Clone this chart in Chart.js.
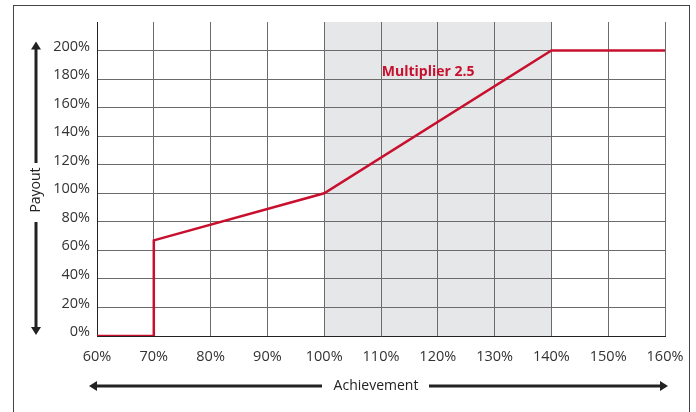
<!DOCTYPE html>
<html>
<head>
<meta charset="utf-8">
<script src="https://cdn.jsdelivr.net/npm/chart.js@4"></script>
<style>
  html, body { margin: 0; padding: 0; background: #fff; }
  #wrap { width: 696px; height: 412px; position: relative; }
</style>
</head>
<body>
<div id="wrap"><canvas id="payoutChart" width="696" height="412"></canvas></div>
<script>
// payout curve: achievement (%) -> payout (%)
const achievement = [60, 70, 70, 100, 140, 160];
const payout = [0, 0, 67, 100, 200, 200];

const xTicks = [60, 70, 80, 90, 100, 110, 120, 130, 140, 150, 160];
const yTicks = [0, 20, 40, 60, 80, 100, 120, 140, 160, 180, 200];

// shaded band and its label
const bandRange = [100, 140];
const bandLabel = 'Multiplier 2.5';
const bandLabelAt = [118.3, 185];

const red = '#c8102e';
const ink = '#222';

const decorPlugin = {
  id: 'decor',
  beforeDraw(chart) {
    const { ctx, chartArea, scales } = chart;
    const x0 = scales.x.getPixelForValue(bandRange[0]);
    const x1 = scales.x.getPixelForValue(bandRange[1]);
    ctx.save();
    ctx.fillStyle = '#e6e7e9';
    ctx.fillRect(x0, chartArea.top, x1 - x0, chartArea.bottom - chartArea.top);
    ctx.restore();
  },
  afterDraw(chart) {
    const { ctx, chartArea, scales } = chart;
    ctx.save();
    // outer frame
    ctx.strokeStyle = '#444';
    ctx.lineWidth = 1;
    ctx.strokeRect(13.5, 5.5, 676, 420);

    // band label
    ctx.fillStyle = red;
    ctx.font = 'bold 14px "Open Sans"';
    ctx.textAlign = 'center';
    ctx.textBaseline = 'middle';
    ctx.fillText(bandLabel, scales.x.getPixelForValue(bandLabelAt[0]), scales.y.getPixelForValue(bandLabelAt[1]));

    // axis titles with arrows
    ctx.fillStyle = ink;
    ctx.strokeStyle = ink;
    ctx.lineWidth = 3;
    ctx.font = '14px "Open Sans"';

    function arrowHead(x, y, dir) {
      ctx.beginPath();
      if (dir === 'up') { ctx.moveTo(x, y); ctx.lineTo(x - 5, y + 8); ctx.lineTo(x + 5, y + 8); }
      if (dir === 'down') { ctx.moveTo(x, y); ctx.lineTo(x - 5, y - 8); ctx.lineTo(x + 5, y - 8); }
      if (dir === 'left') { ctx.moveTo(x, y); ctx.lineTo(x + 8, y - 5); ctx.lineTo(x + 8, y + 5); }
      if (dir === 'right') { ctx.moveTo(x, y); ctx.lineTo(x - 8, y - 5); ctx.lineTo(x - 8, y + 5); }
      ctx.closePath();
      ctx.fill();
    }

    const ax = 36;
    const yTop = scales.y.getPixelForValue(200) - 9;
    const yBot = chartArea.bottom - 1;
    const yMid = 190;
    ctx.beginPath();
    ctx.moveTo(ax, yTop + 6); ctx.lineTo(ax, yMid - 27);
    ctx.moveTo(ax, yMid + 32); ctx.lineTo(ax, yBot - 6);
    ctx.stroke();
    arrowHead(ax, yTop, 'up');
    arrowHead(ax, yBot, 'down');
    ctx.save();
    ctx.translate(ax, yMid);
    ctx.rotate(-Math.PI / 2);
    ctx.textAlign = 'center';
    ctx.textBaseline = 'middle';
    ctx.fillText('Payout', 0, 0);
    ctx.restore();

    const ay = 386;
    const xL = chartArea.left - 8;
    const xR = chartArea.right + 3;
    const xMid = 376;
    ctx.beginPath();
    ctx.moveTo(xL + 6, ay); ctx.lineTo(xMid - 54, ay);
    ctx.moveTo(xMid + 53, ay); ctx.lineTo(xR - 6, ay);
    ctx.stroke();
    arrowHead(xL, ay, 'left');
    arrowHead(xR, ay, 'right');
    ctx.textAlign = 'center';
    ctx.textBaseline = 'middle';
    ctx.fillText('Achievement', xMid, ay);
    ctx.restore();
  }
};

new Chart(document.getElementById('payoutChart'), {
  type: 'line',
  data: {
    datasets: [{
      data: achievement.map((a, i) => ({ x: a, y: payout[i] })),
      borderColor: red,
      borderWidth: 2.5,
      pointRadius: 0,
      fill: false,
      tension: 0
    }]
  },
  options: {
    responsive: false,
    animation: false,
    layout: { padding: { top: 22, right: 31, bottom: 0, left: 0 } },
    plugins: { legend: { display: false }, tooltip: { enabled: false } },
    scales: {
      x: {
        type: 'linear',
        min: xTicks[0],
        max: xTicks[xTicks.length - 1],
        afterBuildTicks: s => { s.ticks = xTicks.map(v => ({ value: v })); },
        afterFit: s => { s.height = 76; },
        grid: { color: '#6b6b6b', drawTicks: false },
        border: { color: ink },
        ticks: {
          padding: 12,
          color: '#333',
          font: { family: 'Open Sans', size: 14.5 },
          callback: v => v + '%'
        }
      },
      y: {
        min: 0,
        max: 220,
        afterBuildTicks: s => { s.ticks = yTicks.map(v => ({ value: v })); },
        afterFit: s => { s.width = 97; },
        grid: { color: '#6b6b6b', drawTicks: false },
        border: { color: ink },
        ticks: {
          padding: 7,
          color: '#333',
          // second empty line lifts the label a few px above its grid line
          font: { family: 'Open Sans', size: 14.5, lineHeight: '8px' },
          callback: v => [v + '%', '']
        }
      }
    }
  },
  plugins: [decorPlugin]
});
</script>
</body>
</html>
